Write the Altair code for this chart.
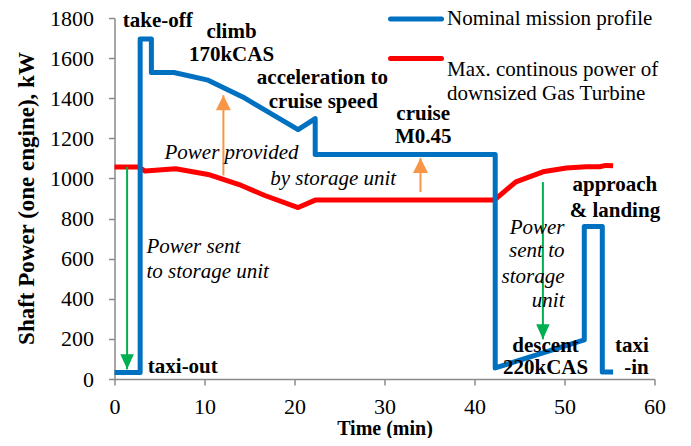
import altair as alt
import pandas as pd

FONT = "Liberation Serif, Times New Roman, serif"

# ---- data ----
series_names = ["Nominal mission profile", "Max. continous power of downsized Gas Turbine"]

blue_t = [0, 2.85, 2.85, 4.1, 4.1, 6.6, 10.4, 14.3, 20.4, 22.3, 22.3, 42.3, 42.3, 52.2, 52.2, 54.2, 54.2, 55.4]
blue_p = [32, 32, 1695, 1695, 1528, 1528, 1490, 1405, 1243, 1298, 1120, 1120, 55, 195, 760, 760, 35, 35]

red_t = [0, 2.7, 3.4, 6.8, 10.4, 14.1, 16.7, 20.4, 22.3, 42.2, 44.6, 47.6, 50.2, 52.4, 53.9, 54.6, 55.4]
red_p = [1057, 1057, 1037, 1048, 1020, 965, 915, 855, 892, 892, 983, 1033, 1052, 1058, 1058, 1065, 1063]

arrow_t = [1.4, 12.1, 34.0, 47.6]
arrow_from = [1057, 1015, 932, 982]
arrow_to = [48, 1415, 1102, 198]
arrow_kind = ["sent", "provided", "provided", "sent"]

label_text = ["take-off", "climb", "170kCAS", "acceleration to", "cruise speed", "cruise", "M0.45",
              "approach", "& landing", "descent", "220kCAS", "taxi", "-in", "taxi-out",
              "Power provided", "by storage unit", "Power sent", "to storage unit",
              "Power", "sent to", "storage", "unit"]
label_t = [4.8, 13.0, 13.0, 23.1, 23.2, 34.3, 34.3,
           55.6, 55.6, 47.9, 47.9, 57.5, 58.0, 3.7,
           13.0, 24.3, 3.55, 3.55,
           50.0, 50.0, 50.0, 50.0]
label_p = [1785, 1728, 1615, 1503, 1382, 1323, 1207,
           965, 840, 165, 57, 165, 57, 60,
           1127, 998, 657, 532,
           753, 637, 510, 390]
label_style = ["bc"] * 13 + ["bl"] + ["ic"] * 2 + ["il"] * 2 + ["ir"] * 4

# ---- tables ----
blue_df = pd.DataFrame({"t": blue_t, "p": blue_p, "i": range(len(blue_t))})
red_df = pd.DataFrame({"t": red_t, "p": red_p, "i": range(len(red_t))})
arrow_df = pd.DataFrame({"t": arrow_t, "p0": arrow_from, "p": arrow_to, "kind": arrow_kind})
label_df = pd.DataFrame({"t": label_t, "p": label_p, "text": label_text, "style": label_style})

AXIS_GREY = "#8a8a8a"
x_axis = alt.Axis(values=list(range(0, 61, 10)), title="Time (min)", grid=False, format="d",
                  domainColor=AXIS_GREY, domainWidth=1.5, tickColor=AXIS_GREY, tickWidth=1.5,
                  tickSize=6, labelFont=FONT, labelFontSize=22, labelColor="black",
                  labelPadding=11, labelFlush=False, labelOverlap=False, titleFont=FONT, titleFontSize=20,
                  titleFontWeight="bold", titleColor="black", titleY=49, titleBaseline="middle")
y_axis = alt.Axis(values=list(range(0, 1801, 200)), title="Shaft Power (one engine), kW", grid=False,
                  format="d", domainColor=AXIS_GREY, domainWidth=1.5, tickColor=AXIS_GREY, tickWidth=1.5,
                  tickSize=6, labelFont=FONT, labelFontSize=22, labelColor="black",
                  labelPadding=15, labelFlush=False, labelOverlap=False, labelSeparation=-10,
                  titleFont=FONT, titleFontSize=23,
                  titleFontWeight="bold", titleColor="black", titleX=-88, titleY=180,
                  titleBaseline="middle", titleAngle=270)

X = alt.X("t:Q", scale=alt.Scale(domain=[0, 60], nice=False), axis=x_axis)
Y = alt.Y("p:Q", scale=alt.Scale(domain=[0, 1800], nice=False), axis=y_axis)

red_line = alt.Chart(red_df).mark_line(color="#FF0000", strokeWidth=5, strokeJoin="round", clip=False).encode(
    x=X, y=Y, order="i:Q")
blue_line = alt.Chart(blue_df).mark_line(color="#0070C0", strokeWidth=5, strokeJoin="round", clip=False).encode(
    x=X, y=Y, order="i:Q")

arrow_color = alt.Color("kind:N", scale=alt.Scale(domain=["sent", "provided"], range=["#00B050", "#F79646"]),
                        legend=None)
arrow_lines = alt.Chart(arrow_df).mark_rule(strokeWidth=2).encode(x=X, y=alt.Y("p0:Q"), y2="p:Q", color=arrow_color)
head_up = alt.Chart(arrow_df).transform_filter(alt.datum.kind == "provided").mark_point(
    shape="M0,0 L0.5,1 L-0.5,1 Z", size=900, filled=True, opacity=1).encode(x=X, y=Y, color=arrow_color)
head_down = alt.Chart(arrow_df).transform_filter(alt.datum.kind == "sent").mark_point(
    shape="M0,0 L0.45,-1 L-0.45,-1 Z", size=900, filled=True, opacity=1).encode(x=X, y=Y, color=arrow_color)


def labels(style, weight, fstyle, align):
    return alt.Chart(label_df).transform_filter(alt.datum.style == style).mark_text(
        font=FONT, fontSize=21, fontWeight=weight, fontStyle=fstyle, align=align, baseline="middle",
        color="black").encode(x=X, y=Y, text="text:N")


txt_bc = labels("bc", "bold", "normal", "center")
txt_bl = labels("bl", "bold", "normal", "left")
txt_ic = labels("ic", "normal", "italic", "center")
txt_il = labels("il", "normal", "italic", "left")
txt_ir = labels("ir", "normal", "italic", "right")

# ---- manual legend (top right) ----
leg_df = pd.DataFrame({"name": series_names})
leg_blue = alt.Chart(leg_df).transform_filter(alt.datum.name == series_names[0]).mark_rule(
    color="#0070C0", strokeWidth=5, strokeCap="round").encode(
    x=alt.value(276), x2=alt.value(327), y=alt.value(1))
leg_red = alt.Chart(leg_df).transform_filter(alt.datum.name == series_names[1]).mark_rule(
    color="#FF0000", strokeWidth=5, strokeCap="round").encode(
    x=alt.value(276), x2=alt.value(327), y=alt.value(40.5))
leg_t1 = alt.Chart(leg_df).transform_filter(alt.datum.name == series_names[0]).mark_text(
    font=FONT, fontSize=21, align="left", baseline="middle", color="black").encode(
    x=alt.value(332.5), y=alt.value(1), text="name:N")
leg_t2 = alt.Chart(leg_df).transform_filter(alt.datum.name == series_names[1]).transform_calculate(
    lbl="'Max. continous power of\\ndownsized Gas Turbine'").mark_text(
    font=FONT, fontSize=21, align="left", baseline="middle", color="black", lineBreak="\n",
    lineHeight=23.5).encode(x=alt.value(332.5), y=alt.value(52.25), text="lbl:N")

chart = alt.layer(
    red_line, blue_line, arrow_lines, head_up, head_down,
    txt_bc, txt_bl, txt_ic, txt_il, txt_ir,
    leg_blue, leg_red, leg_t1, leg_t2,
).properties(
    width=540, height=361,
    autosize=alt.AutoSizeParams(type="none"),
    padding={"left": 106.5, "top": 10, "right": 28, "bottom": 59},
).configure_view(stroke=None)

chart.save("out.html", embed_options={"renderer": "svg", "actions": False})
